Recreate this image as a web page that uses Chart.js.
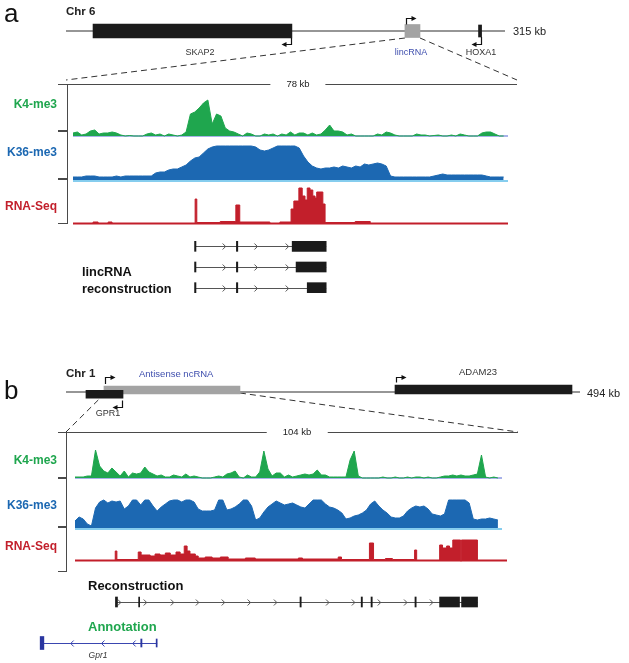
<!DOCTYPE html>
<html>
<head>
<meta charset="utf-8">
<script src="https://cdn.jsdelivr.net/npm/chart.js@4.4.1/dist/chart.umd.min.js"></script>
<style>
  html, body { margin: 0; background: #fff; }
  #fig { position: relative; width: 629px; height: 663px; overflow: hidden; font-family: "Liberation Sans", Arial, sans-serif; }
  #fig canvas { position: absolute; }
  .t { position: absolute; white-space: nowrap; line-height: 1; color: #222; }
  .rule { position: absolute; background: #4a4a4a; }
</style>
</head>
<body>
<div id="fig"></div>
<script>
// ---------------- data ----------------
// panel a: 315 kb of chr 6
const chrLenA = 315;
const geneNamesA = ['SKAP2', 'lincRNA', 'HOXA1'];
const geneStartA = [19.4, 243.2, 296.0];
const geneEndA = [162.1, 254.0, 298.2];
const geneStrandA = [-1, 1, -1];
const zoomWindowA = [243.2, 254.0];

// 78 kb window, signal in 0.78 kb bins
const binA = 0.78;
const k4A = [3,4,1,2,5,6,2,3,3,4, 3,1,0,0.5,0,0,0,2,3,1, 2,0,2,1,0,1,4,22,24,28,
  33,36,12,22,20,8,5,4,2,0, 3,2,0,0,2,1,2,0,2,1, 4,1,3,3,1,3,1,2,6,11,
  5,5,4,1,2,0,0,0,0,0, 2,1,4,3,1,0,0,0,0,2, 1,1,0,0.5,1,0,0,1,0,2, 1,0,0,0,3,4,4,2,0,0];
const k36A = [3,3,3,4,4,4,3,3,3,3, 4,3,4,4,4,4,4,4,4,7, 8,8,10,11,11,13,15,19,22,23,
  27,31,33,34,34,34,34,34,34,34, 34,34,33,30,29,30,32,34,34,34, 34,34,32,24,18,14,12,11,12,12,
  13,12,14,13,12,14,13,16,15,16, 17,16,14,4,3,3,3,3,3,3, 3,3,3,4,5,6,5,5,5,5, 5,5,5,5,5,4,3,3,3,3];
// RNA-Seq as bedGraph: segment starts (kb) and coverage
const rnaAStart = [0, 3.6, 4.5, 6.3, 7.0, 21.9, 22.2, 26.4, 29.2, 29.9, 35.3, 37.1, 39.1, 39.6, 40.5,
  41.1, 41.6, 42.0, 42.5, 43.0, 43.4, 43.7, 44.8, 45.2, 50.6, 53.3];
const rnaAValue = [1, 2, 1, 2, 1, 25, 1.5, 2.5, 19, 2, 1, 2, 15, 23, 36,
  28, 24, 36, 34, 28, 26, 32, 20, 1.5, 2.5, 1];

// lincRNA reconstructions (kb in the 78 kb window)
const txARows = ['t1', 't2', 't3'];
const txAStart = [21.9, 21.9, 21.9];
const txAEnd = [45.4, 45.4, 45.4];
const txAExons = [
  [[21.8, 22.05], [29.3, 29.55], [39.3, 45.4]],
  [[21.8, 22.05], [29.3, 29.55], [40.0, 45.4]],
  [[21.8, 22.05], [29.3, 29.55], [42.0, 45.4]]
];
const txAChevrons = [27.1, 32.8, 38.4];

// panel b: 494 kb of chr 1
const chrLenB = 494;
const geneNamesB = ['GPR1', 'Antisense ncRNA', 'ADAM23'];
const geneStartB = [19.2, 36.5, 316.2];
const geneEndB = [54.8, 167.2, 486.3];
const geneStrandB = [-1, 1, 1];
const zoomWindowB = [31.0, 167.2];

// 104 kb window, 1 kb bins
const binB = 1.0;
const k4B = [1,1,1,2,2,28,12,7,5,10, 6,2,7,1,5,4,5,11,6,4, 2,3,1,1,3,2,1,4,1,2, 1,0,0,0,1,2,1,4,5,7,
  1,0,3,1,1,6,27,9,2,5, 5,1,3,1,2,3,4,3,4,8, 3,3,1,1,1,1,1,18,27,2, 0,0,0,0,0,1,0,0,1,0,
  0,1,0,1,1,0,1,0,0,1, 2,2,3,2,3,2,2,3,4,23, 1,0,1,0];
const k36B = [7,11,9,4,2,20,26,28,25,27, 26,27,19,22,28,28,23,28,28,22, 17,21,24,27,28,28,26,28,28,26,
  19,17,17,17,18,28,28,18,19,21, 24,28,28,22,8,10,16,21,24,27, 25,23,24,25,23,21,20,24,28,28,
  28,24,21,20,18,15,9,10,12,13, 15,18,24,27,22,18,15,11,10,10, 12,17,20,22,21,22,19,14,13,12,
  14,28,28,28,28,28,25,9,8,9, 9,10,9,8];
const rnaBStart = [0, 9.8, 10.2, 15.4, 16.1, 18.3, 19.5, 20.7, 22.0, 23.2, 24.6, 25.6, 26.6, 27.3, 28.0,
  29.3, 30.0, 31.7, 33.4, 35.4, 37.3, 41.5, 43.9, 54.4, 55.4, 64.1, 64.9, 71.7, 72.7, 75.6,
  77.3, 82.7, 83.2, 88.8, 89.5, 90.5, 91.2, 92.0, 93.9, 94.1, 98.0];
const rnaBValue = [1, 10, 1.5, 9, 6, 5, 7, 6, 8, 6, 9, 7, 15, 10, 7,
  5, 3, 4, 3, 4, 2, 3, 2, 3, 2, 4, 1.5, 18, 1.5, 2.5,
  1.5, 11, 1, 16, 13, 15, 13, 21, 0, 21, 1];

// reconstruction and Gpr1 annotation (kb in the 104 kb window)
const txBStart = [10.0];
const txBEnd = [98.05];
const txBExons = [[[9.85, 10.35], [15.5, 15.75], [54.8, 55.1], [69.7, 70.0], [72.1, 72.4], [82.8, 83.1], [88.8, 93.65], [94.15, 98.05]]];
const txBChevrons = [10.8, 17.1, 23.7, 29.8, 36.1, 42.4, 48.8, 61.5, 67.8, 74.1, 80.5, 86.8];
const gpr1Start = [-8.5];
const gpr1End = [20.0];
const gpr1Exons = [[[-8.5, -7.6], [16.0, 16.3], [19.75, 20.0]]];
const gpr1Chevrons = [-0.7, 6.8, 14.4];

// ---------------- helpers ----------------
const fig = document.getElementById('fig');

function place(left, top, w, h) {
  const c = document.createElement('canvas');
  c.width = w; c.height = h;
  c.style.left = left + 'px'; c.style.top = top + 'px';
  c.style.width = w + 'px'; c.style.height = h + 'px';
  fig.appendChild(c);
  return c;
}

function label(text, x, y, css, anchor) {
  const d = document.createElement('div');
  d.className = 't';
  d.textContent = text;
  d.style.cssText = css || '';
  d.style.left = x + 'px';
  d.style.top = y + 'px';
  const tx = anchor === 'center' ? '-50%' : anchor === 'right' ? '-100%' : '0';
  d.style.transform = 'translate(' + tx + ', -50%)';
  fig.appendChild(d);
  return d;
}

function rule(x, y, w, h, color) {
  const d = document.createElement('div');
  d.className = 'rule';
  d.style.left = x + 'px'; d.style.top = y + 'px';
  d.style.width = w + 'px'; d.style.height = h + 'px';
  if (color) d.style.background = color;
  fig.appendChild(d);
}

const quiet = {
  responsive: false, animation: false, events: [],
  plugins: { legend: { display: false }, tooltip: { enabled: false } }
};

function binned(values, bin) {
  return values.map((v, i) => ({ x: i * bin, y: v }));
}
function bedGraph(starts, values, end) {
  return starts.map((s, i) => ({ x: s, y: values[i] })).concat([{ x: end, y: values[values.length - 1] }]);
}

function signalChart(canvas, xMax, yMin, yMax, points, color, stepped, baseY, baseColor, baseWidth) {
  return new Chart(canvas, {
    type: 'line',
    data: {
      datasets: [
        { data: points, parsing: false, borderColor: color, backgroundColor: color, borderWidth: 1,
          fill: 'origin', pointRadius: 0, tension: 0, stepped: stepped },
        { data: [{ x: 0, y: baseY }, { x: xMax, y: baseY }], parsing: false, borderColor: baseColor,
          borderWidth: baseWidth, pointRadius: 0, fill: false }
      ]
    },
    options: Object.assign({}, quiet, {
      layout: { padding: 0 },
      scales: {
        x: { type: 'linear', min: 0, max: xMax, display: false },
        y: { type: 'linear', min: yMin, max: yMax, display: false }
      }
    })
  });
}

// chromosome line and bent TSS arrows, drawn through the chart scales
function chromosomePlugin(chrLen, starts, ends, strands, edge, rise) {
  return {
    id: 'chromosome',
    beforeDatasetsDraw(chart) {
      const { ctx, scales: { x, y } } = chart;
      const y0 = y.getPixelForValue(0);
      ctx.save();
      ctx.strokeStyle = '#969696';
      ctx.lineWidth = 2;
      ctx.beginPath();
      ctx.moveTo(x.getPixelForValue(0), y0);
      ctx.lineTo(x.getPixelForValue(chrLen), y0);
      ctx.stroke();
      ctx.restore();
    },
    afterDatasetsDraw(chart) {
      const { ctx, scales: { x, y } } = chart;
      const y0 = y.getPixelForValue(0);
      ctx.save();
      ctx.strokeStyle = '#111';
      ctx.fillStyle = '#111';
      ctx.lineWidth = 1.2;
      strands.forEach((d, i) => {
        const kb = d > 0 ? starts[i] : ends[i];
        const px = Math.round(x.getPixelForValue(kb)) + (d > 0 ? 1.5 : -0.5);
        const yEdge = y0 - d * edge[i];
        const yTip = Math.round(y0 - d * rise) + 0.5;
        ctx.beginPath();
        ctx.moveTo(px, yEdge);
        ctx.lineTo(px, yTip);
        ctx.lineTo(px + d * 6, yTip);
        ctx.stroke();
        ctx.beginPath();
        ctx.moveTo(px + d * 10, yTip);
        ctx.lineTo(px + d * 5, yTip - 2.5);
        ctx.lineTo(px + d * 5, yTip + 2.5);
        ctx.closePath();
        ctx.fill();
      });
      ctx.restore();
    }
  };
}

function overviewChart(canvas, padL, padR, chrLen, starts, ends, strands, fills, lanes, thick, rise) {
  const datasets = starts.map((s, i) => ({
    data: [{ x: [s, ends[i]], y: lanes[i] }],
    backgroundColor: fills[i], borderWidth: 0, stack: 'genes', barThickness: thick[i]
  }));
  const edge = lanes.map((l, i) => thick[i] / 2 + strands[i] * l * canvas.height / 2);
  return new Chart(canvas, {
    type: 'bar',
    data: { datasets },
    options: Object.assign({}, quiet, {
      indexAxis: 'y',
      layout: { padding: { left: padL, right: padR, top: 0, bottom: 0 } },
      scales: {
        x: { type: 'linear', min: 0, max: chrLen, display: false, stacked: false },
        y: { type: 'linear', min: -1, max: 1, display: false, ticks: { stepSize: 2 } }
      }
    }),
    plugins: [chromosomePlugin(chrLen, starts, ends, strands, edge, rise)]
  });
}

// intron lines with strand chevrons
function intronPlugin(rows, starts, ends, chevrons, strand, color) {
  return {
    id: 'introns',
    beforeDatasetsDraw(chart) {
      const { ctx, scales: { x, y } } = chart;
      ctx.save();
      ctx.strokeStyle = color;
      ctx.lineWidth = 1;
      rows.forEach((r, i) => {
        const py = Math.round(y.getPixelForValue(i)) + 0.5;
        ctx.beginPath();
        ctx.moveTo(x.getPixelForValue(starts[i]), py);
        ctx.lineTo(x.getPixelForValue(ends[i]), py);
        ctx.stroke();
        chevrons.forEach(c => {
          const px = x.getPixelForValue(c);
          ctx.beginPath();
          ctx.moveTo(px - 1.5 * strand, py - 3);
          ctx.lineTo(px + 1.5 * strand, py);
          ctx.lineTo(px - 1.5 * strand, py + 3);
          ctx.stroke();
        });
      });
      ctx.restore();
    }
  };
}

function transcriptChart(canvas, xMin, xMax, rows, starts, ends, exons, chevrons, strand, exonColor, lineColor, thick) {
  const datasets = [];
  exons.forEach((rowExons, r) => rowExons.forEach((ex, j) => datasets.push({
    data: [{ x: ex, y: rows[r] }],
    backgroundColor: exonColor, borderWidth: 0, stack: 'tx',
    barThickness: Array.isArray(thick) ? thick[j] : thick
  })));
  return new Chart(canvas, {
    type: 'bar',
    data: { labels: rows, datasets },
    options: Object.assign({}, quiet, {
      indexAxis: 'y',
      layout: { padding: 0 },
      scales: {
        x: { type: 'linear', min: xMin, max: xMax, display: false, stacked: false },
        y: { type: 'category', display: false }
      }
    }),
    plugins: [intronPlugin(rows, starts, ends, chevrons, strand, lineColor)]
  });
}

// ---------------- colours ----------------
const green = '#1fa64e', blue = '#1c68b2', red = '#c21f2b';
const k4Line = '#5266d4', k36Line = '#86cdee';

// dashed connector overlay (drawn after the overview charts exist)
const overlay = place(0, 0, 629, 663);

// ---------------- panel a ----------------
const ovA = overviewChart(place(56, 11, 470, 40), 10, 21, chrLenA, geneStartA, geneEndA, geneStrandA,
  ['#1b1b1b', '#a3a3a3', '#1b1b1b'], [0, 0, 0], [14, 13, 12], 13);

signalChart(place(73, 97, 435, 40), 78, -1, 39, binned(k4A, binA), green, false, 0, k4Line, 1.2);
signalChart(place(73, 144, 435, 38), 78, -2, 36, binned(k36A, binA), blue, false, -1, k36Line, 2);
signalChart(place(73, 187, 435, 38), 78, -1, 37, bedGraph(rnaAStart, rnaAValue, 78), red, true, 0, red, 1);

transcriptChart(place(73, 236, 435, 62), 0, 78, txARows, txAStart, txAEnd, txAExons, txAChevrons, 1,
  '#1b1b1b', '#555', 10);

// ---------------- panel b ----------------
const ovB = overviewChart(place(56, 372, 540, 40), 10, 16, chrLenB, geneStartB, geneEndB, geneStrandB,
  ['#1b1b1b', '#a3a3a3', '#1b1b1b'], [-0.225, 0.2, 0.25], [8, 8, 9], 15);

signalChart(place(75, 448, 427, 31), 104, -1, 30, binned(k4B, binB), green, false, 0, k4Line, 1.2);
signalChart(place(75, 498, 427, 32), 104, -2, 30, binned(k36B, binB), blue, false, -1, k36Line, 2);
signalChart(place(75, 538, 432, 24), 105.2, -1, 23, bedGraph(rnaBStart, rnaBValue, 105.2), red, true, 0, red, 1);

transcriptChart(place(75, 594, 427, 16), 0, 104, ['tx'], txBStart, txBEnd, txBExons, txBChevrons, 1,
  '#1b1b1b', '#555', 10);
transcriptChart(place(35, 635, 467, 16), -9.76, 104, ['gpr1'], gpr1Start, gpr1End, gpr1Exons, gpr1Chevrons, -1,
  '#2a36a0', '#3a46b0', [13, 8, 8]);

// ---------------- connectors, scale bars, brackets ----------------
(function drawConnectors() {
  const ctx = overlay.getContext('2d');
  ctx.strokeStyle = '#333';
  ctx.lineWidth = 1;
  ctx.setLineDash([6, 4]);
  const ax = kb => 56 + ovA.scales.x.getPixelForValue(kb);
  const bx = kb => 56 + ovB.scales.x.getPixelForValue(kb);
  const seg = (x1, y1, x2, y2) => { ctx.beginPath(); ctx.moveTo(x1, y1); ctx.lineTo(x2, y2); ctx.stroke(); };
  seg(ax(zoomWindowA[0]), 38, 66, 80);
  seg(ax(zoomWindowA[1]), 38, 517, 80);
  seg(bx(zoomWindowB[0]), 400, 66, 432);
  seg(bx(zoomWindowB[1]), 393, 518, 432);
})();

rule(58, 84, 459, 1);
rule(67, 84, 1, 140);
rule(58, 130, 9, 2); rule(58, 178, 9, 2); rule(58, 223, 9, 1);

rule(58, 432, 460, 1);
rule(66, 432, 1, 140);
rule(58, 477, 8, 2); rule(58, 526, 8, 2); rule(58, 571, 8, 1);

// ---------------- text ----------------
const trackFont = 'font-weight:bold;font-size:12px;';
label('a', 4, 13, 'font-size:26px;color:#111;');
label('Chr 6', 66, 12, 'font-weight:bold;font-size:11.5px;');
label('315 kb', 513, 31, 'font-size:11px;');
label(geneNamesA[0], 200, 52, 'font-size:9px;color:#333;', 'center');
label(geneNamesA[1], 411, 52, 'font-size:9px;color:#3f4fae;', 'center');
label(geneNamesA[2], 481, 52, 'font-size:9px;color:#333;', 'center');
label('78 kb', 298, 84, 'font-size:9.5px;background:#fff;padding:0 16px;', 'center');
label('K4-me3', 57, 104, trackFont + 'color:' + green, 'right');
label('K36-me3', 57, 152, trackFont + 'color:' + blue, 'right');
label('RNA-Seq', 57, 206, trackFont + 'color:' + red, 'right');
label('lincRNA', 82, 272, 'font-weight:bold;font-size:12.8px;color:#111;');
label('reconstruction', 82, 289, 'font-weight:bold;font-size:12.8px;color:#111;');

label('b', 4, 390, 'font-size:26px;color:#111;');
label('Chr 1', 66, 374, 'font-weight:bold;font-size:11.5px;');
label(geneNamesB[1], 139, 374, 'font-size:9.5px;color:#3f4fae;');
label(geneNamesB[2], 478, 372, 'font-size:9.5px;color:#333;', 'center');
label('494 kb', 587, 393, 'font-size:11px;');
label(geneNamesB[0], 108, 413, 'font-size:9px;color:#333;', 'center');
label('104 kb', 297, 432, 'font-size:9.5px;background:#fff;padding:0 16px;', 'center');
label('K4-me3', 57, 460, trackFont + 'color:' + green, 'right');
label('K36-me3', 57, 505, trackFont + 'color:' + blue, 'right');
label('RNA-Seq', 57, 546, trackFont + 'color:' + red, 'right');
label('Reconstruction', 88, 585, 'font-weight:bold;font-size:13px;color:#111;');
label('Annotation', 88, 626, 'font-weight:bold;font-size:13px;color:' + green);
label('Gpr1', 98, 655, 'font-style:italic;font-size:8.5px;color:#333;', 'center');
</script>
</body>
</html>
